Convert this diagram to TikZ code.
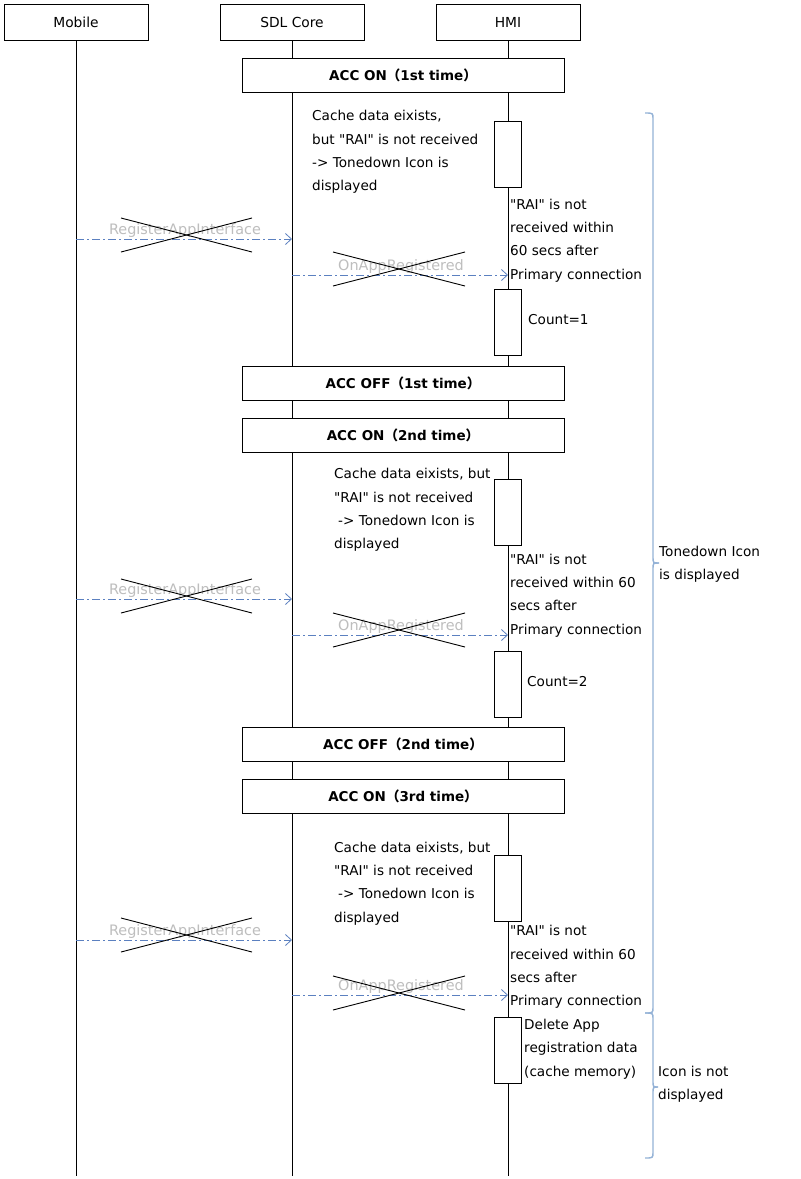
\documentclass[tikz,border=0pt]{standalone}
\usepackage{fontspec}
\setmainfont{DejaVu Sans}[Ligatures=TeXOff]
\newfontfamily\cjkfont{Noto Sans CJK JP}
\usetikzlibrary{arrows.meta}
\definecolor{msgblue}{HTML}{5B80C0}
\definecolor{lblgray}{HTML}{BEBEBE}
\definecolor{bracecol}{HTML}{95B3D7}
\newcommand{\fwp}[1]{{\cjkfont #1}}
\begin{document}
\begin{tikzpicture}[x=1pt,y=-1pt,
  txt/.style={font=\fontsize{13.6}{23.3}\selectfont, inner sep=0pt, align=left, anchor=west, text=black},
  hdr/.style={draw, line width=0.9pt, minimum width=144pt, minimum height=36pt, inner sep=0pt, font=\fontsize{13.8}{16}\selectfont},
  phase/.style={draw, fill=white, line width=0.9pt, minimum width=322pt, minimum height=34pt, inner sep=0pt, font=\bfseries\fontsize{13.5}{16}\selectfont},
  act/.style={draw, fill=white, line width=0.9pt, minimum width=27pt, minimum height=66pt, inner sep=0pt},
  life/.style={line width=0.9pt},
  msg/.style={draw=msgblue, line width=0.8pt, dash pattern=on 8pt off 3pt on 2pt off 3pt, -{Straight Barb[length=6pt,width=11pt]}},
  msglbl/.style={font=\fontsize{14.4}{16}\selectfont, text=lblgray, inner sep=0pt},
  xline/.style={line width=0.9pt},
  brc/.style={draw=bracecol, line width=1.4pt}
]
\useasboundingbox (0,0) rectangle (801,1179);
\fill[white] (0,0) rectangle (801,1179);

% headers and lifelines
\node[hdr] (mob) at (76,22) {Mobile};
\node[hdr] (sdl) at (292,22) {SDL Core};
\node[hdr] (hmi) at (508,22) {HMI};
\coordinate (mobE) at (76,1176);
\coordinate (sdlE) at (292,1176);
\coordinate (hmiE) at (508,1176);
\draw[life] (mob.south) -- (mobE);
\draw[life] (sdl.south) -- (sdlE);
\draw[life] (hmi.south) -- (hmiE);

% phases
\node[phase] (on1) at (403,75) {ACC ON\fwp{（}1st time\fwp{）}};
\node[phase] (off1) at (403,383) {ACC OFF\fwp{（}1st time\fwp{）}};
\node[phase] (on2) at (403,435) {ACC ON\fwp{（}2nd time\fwp{）}};
\node[phase] (off2) at (403,744) {ACC OFF\fwp{（}2nd time\fwp{）}};
\node[phase] (on3) at (403,796) {ACC ON\fwp{（}3rd time\fwp{）}};

% activations
\node[act] (a1) at (507.5,154) {};
\node[act] (a2) at (507.5,322) {};
\node[act] (a3) at (507.5,512.5) {};
\node[act] (a4) at (507.5,684.5) {};
\node[act] (a5) at (507.5,888) {};
\node[act] (a6) at (507.5,1050) {};

% messages (crossed out)
\foreach \i/\ry/\oy/\rc/\oc in {1/239/275/235/269, 2/599/635/596/630, 3/940/995/935/993}{
  \node[msglbl] (rl\i) at (185,\ry-8) {RegisterAppInterface};
  \node[msglbl] (ol\i) at (401,\oy-8) {OnAppRegistered};
  \coordinate (rs\i) at (76,\ry);
  \coordinate (re\i) at (292,\ry);
  \coordinate (os\i) at (292,\oy);
  \coordinate (oe\i) at (508,\oy);
  \draw[msg] (rs\i) -- (re\i);
  \draw[msg] (os\i) -- (oe\i);
  \draw[xline] (121,\rc-17) -- (252,\rc+17);
  \draw[xline] (121,\rc+17) -- (252,\rc-17);
  \draw[xline] (333,\oc-17) -- (465,\oc+17);
  \draw[xline] (333,\oc+17) -- (465,\oc-17);
}

% notes
\node[txt] (c1) at (312,152) {Cache data eixists,\\but "RAI" is not received\\-> Tonedown Icon is\\displayed};
\node[txt] (r1) at (510,240.5) {"RAI" is not\\received within\\60 secs after\\Primary connection};
\node[txt] (k1) at (528,320) {Count=1};
\node[txt] (c2) at (334,510) {Cache data eixists, but\\"RAI" is not received\\\hspace*{4pt}-> Tonedown Icon is\\displayed};
\node[txt] (r2) at (510,595.5) {"RAI" is not\\received within 60\\secs after\\Primary connection};
\node[txt] (k2) at (527,682) {Count=2};
\node[txt] (c3) at (334,883.5) {Cache data eixists, but\\"RAI" is not received\\\hspace*{4pt}-> Tonedown Icon is\\displayed};
\node[txt] (r3) at (510,967) {"RAI" is not\\received within 60\\secs after\\Primary connection};
\node[txt] (d1) at (524,1049) {Delete App\\registration data\\(cache memory)};

% braces
\draw[brc] (645,113) .. controls (653,113) .. (653,119) -- (653,557) .. controls (653,563) .. (659,563);
\draw[brc] (659,563) .. controls (653,563) .. (653,569) -- (653,1007) .. controls (653,1013) .. (645,1013);
\draw[brc] (645,1013) .. controls (653,1013) .. (653,1019) -- (653,1081) .. controls (653,1087) .. (658,1087);
\draw[brc] (658,1087) .. controls (653,1087) .. (653,1093) -- (653,1152) .. controls (653,1158) .. (645,1158);
\node[txt] (b1) at (659,564.5) {Tonedown Icon\\is displayed};
\node[txt] (b2) at (658,1084.5) {Icon is not\\displayed};
\end{tikzpicture}
\end{document}
